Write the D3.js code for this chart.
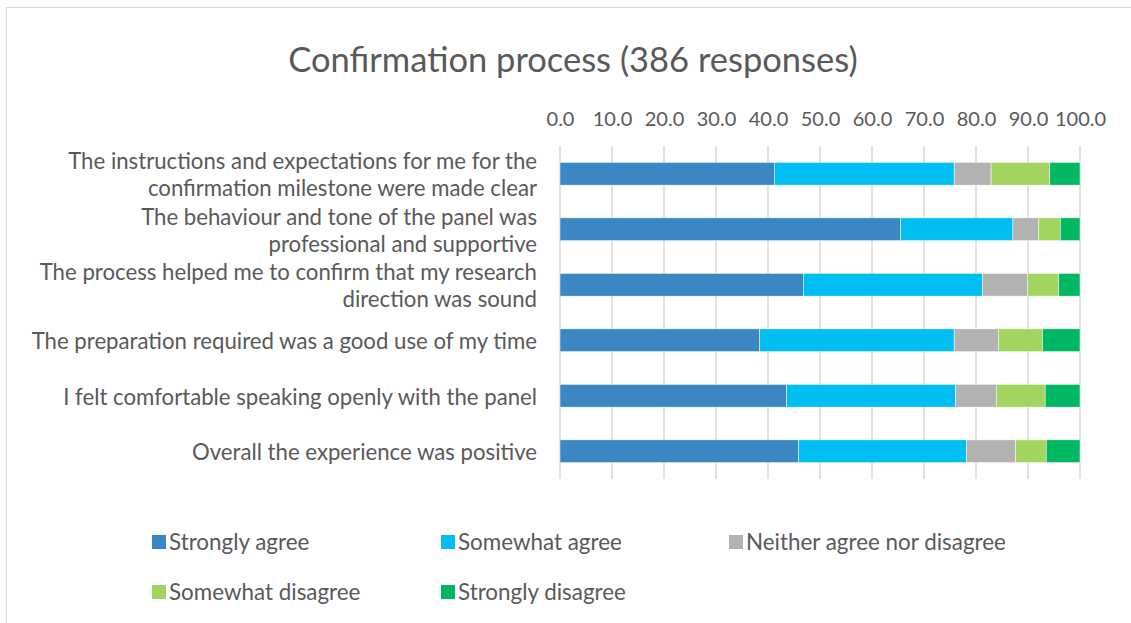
<!DOCTYPE html>
<html><head><meta charset="utf-8">
<script src="https://cdn.jsdelivr.net/npm/d3@7"></script>
<style>body{margin:0;background:#fff;}svg{display:block;font-family:Lato,"Open Sans",sans-serif;}</style>
</head><body><svg id="c" width="1131" height="623"></svg>
<script>
const categories = [
  "The instructions and expectations for me for the\nconfirmation milestone were made clear",
  "The behaviour and tone of the panel was\nprofessional and supportive",
  "The process helped me to confirm that my research\ndirection was sound",
  "The preparation required was a good use of my time",
  "I felt comfortable speaking openly with the panel",
  "Overall the experience was positive"
];
const seriesNames = ["Strongly agree","Somewhat agree","Neither agree nor disagree","Somewhat disagree","Strongly disagree"];
const stronglyAgree    = [41.2, 65.5, 46.8, 38.4, 43.6, 45.9];
const somewhatAgree    = [34.6, 21.6, 34.4, 37.4, 32.5, 32.3];
const neither          = [7.1, 4.9, 8.7, 8.5, 7.8, 9.4];
const somewhatDisagree = [11.3, 4.2, 6.0, 8.5, 9.4, 5.9];
const stronglyDisagree = [5.8, 3.8, 4.1, 7.2, 6.7, 6.5];
const tickValues = [0,10,20,30,40,50,60,70,80,90,100];
const colors = ["#3B87C3","#00BEF2","#B2B2B2","#A2D55F","#00B862"];

const svg = d3.select("#c");
const textColor = "#595959";

// outer frame
svg.append("rect").attr("x",6.5).attr("y",7.5).attr("width",1130).attr("height",630)
  .attr("fill","none").attr("stroke","#D9D9D9").attr("stroke-width",1);

svg.append("text").attr("x",573).attr("y",72).attr("text-anchor","middle")
  .attr("font-size",34.5).attr("fill",textColor).text("Confirmation process (386 responses)");

const x = d3.scaleLinear().domain([0,100]).range([560,1080]);
const y = d3.scaleBand().domain(categories).range([146,479]).paddingInner(0.59).paddingOuter(0.295);

// gridlines
svg.append("g").selectAll("line").data(tickValues).join("line")
  .attr("x1",d=>x(d)).attr("x2",d=>x(d)).attr("y1",146).attr("y2",479)
  .attr("stroke","#D9D9D9").attr("stroke-width",1.5);

// top axis
const ax = svg.append("g").attr("transform","translate(0,126)")
  .call(d3.axisTop(x).tickValues(tickValues).tickFormat(d3.format(".1f")).tickSize(0).tickPadding(0));
ax.select(".domain").remove();
ax.selectAll("text").attr("font-size",20).attr("fill",textColor).attr("font-family","Lato");

// stacked data
const rows = categories.map((c,i)=>({cat:c, v:[stronglyAgree[i],somewhatAgree[i],neither[i],somewhatDisagree[i],stronglyDisagree[i]]}));
const keys = [0,1,2,3,4];
const stack = d3.stack().keys(keys).value((d,k)=>d.v[k]);
const stacked = stack(rows);
svg.append("g").selectAll("g").data(stacked).join("g").attr("fill",(d,i)=>colors[i])
  .selectAll("rect").data(d=>d).join("rect")
  .attr("x",d=>x(d[0])).attr("width",d=>x(Math.min(d[1],100))-x(d[0]))
  .attr("y",d=>y(d.data.cat)).attr("height",y.bandwidth())
  .attr("stroke","#ffffff").attr("stroke-width",0.5);

// category labels
const lab = svg.append("g");
categories.forEach(c=>{
  const lines = c.split("\n");
  const cy = y(c)+y.bandwidth()/2;
  const lh = 27;
  const t = lab.append("text").attr("text-anchor","end").attr("font-size",22.2).attr("fill",textColor);
  lines.forEach((ln,j)=>{
    t.append("tspan").attr("x",537).attr("y",cy + (j-(lines.length-1)/2)*lh + 9).text(ln);
  });
});

// legend
const legPos = [[152,542],[441,542],[729,542],[152,592],[441,592]];
const lg = svg.append("g");
seriesNames.forEach((n,i)=>{
  const [lx,ly] = legPos[i];
  lg.append("rect").attr("x",lx).attr("y",ly-7).attr("width",14).attr("height",14).attr("fill",colors[i]);
  lg.append("text").attr("x",lx+17).attr("y",ly+8).attr("font-size",22.4).attr("fill",textColor).text(n);
});
</script></body></html>
